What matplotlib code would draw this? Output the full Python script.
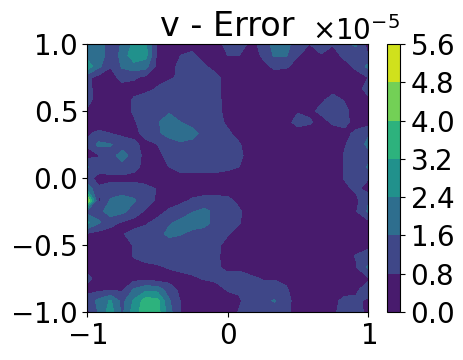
# v - Error contour (units of 1e-5)
import numpy as np
import matplotlib
matplotlib.use("Agg")
import matplotlib.pyplot as plt

x_values = np.linspace(-1, 1, 25).tolist()
y_values = np.linspace(1, -1, 25).tolist()
levels = [0.0, 0.8, 1.6, 2.4, 3.2, 4.0, 4.8, 5.6]
x_ticks = [-1, 0, 1]
y_ticks = [-1, -0.5, 0, 0.5, 1]

# one row per y value, top of the plot first
error_rows = [
    [1.9, 2.3, 1.0, 1.7, 2.6, 2.6, .75, .4, .5, .6, .4, .6, .95, 1.0, .7, .9, 2.0, 2.0, .9, .8, 1.2, .85, 1.5, 1.7, .5],
    [2.0, 2.3, .9, 1.9, 2.9, 2.7, .6, .5, .8, .9, .5, .5, .8, .8, .4, .9, 1.7, 1.7, .85, .5, .75, .5, 1.0, 1.3, .8],
    [3.0, 1.8, .85, 1.7, 2.1, 1.9, .6, .5, 1.0, 1.1, .9, .5, .4, .3, .3, .6, .95, .9, .5, .4, .4, .4, .5, 1.0, 1.8],
    [1.0, .5, .4, 1.1, .9, .6, .6, .7, .9, 1.1, 1.2, 1.0, .5, .3, .3, .3, .4, .4, .3, .3, .3, .3, .4, .4, .8],
    [1.1, .4, .3, .4, .5, .6, .85, 1.1, 1.3, 1.4, 1.3, 1.0, .5, .3, .3, .3, .3, .3, .3, .3, .5, .6, .6, .5, 1.1],
    [1.1, .4, .3, .4, .9, 1.1, 1.2, 1.3, 1.4, 1.4, 1.2, 1.0, .55, .3, .3, .3, .3, .3, .3, .4, .7, 1.0, .75, .5, .6],
    [.7, .4, .3, .4, .9, 1.2, 1.4, 1.5, 1.4, 1.3, 1.2, 1.0, .6, .4, .3, .3, .4, .6, .75, .65, .95, 1.2, .95, .5, .4],
    [.4, .4, .4, .5, .7, 1.2, 1.5, 2.0, 1.6, 1.3, 1.2, 1.0, .7, .5, .3, .3, .4, .6, 1.0, .9, .55, .9, 1.0, .5, .4],
    [.7, .95, .8, .6, .6, 1.0, 1.4, 2.0, 2.2, 1.9, 1.3, 1.1, .9, .6, .35, .3, .3, .4, .5, .4, .4, .5, .6, .95, 1.5],
    [.9, 1.8, 1.65, 1.3, .95, .6, .8, 1.0, 1.4, 1.3, 1.2, 1.1, 1.0, .85, .5, .3, .3, .3, .3, .3, .3, .4, .75, 1.1, 1.8],
    [.5, .75, 1.3, 1.9, 1.3, .5, .6, 1.0, 1.2, 1.2, 1.2, 1.2, 1.1, .95, .5, .3, .3, .3, .3, .3, .3, .4, .85, .85, 1.2],
    [1.7, 1.1, 1.2, 1.3, 1.0, .6, .5, .8, 1.0, 1.0, 1.0, 1.0, .95, .8, .4, .3, .3, .3, .3, .3, .3, .4, .85, .8, 1.7],
    [1.0, .6, .6, .6, .6, .4, .4, .5, .6, .6, .6, .6, .5, .4, .3, .3, .3, .3, .3, .3, .3, .4, .85, .9, .85],
    [2.2, .9, 1.1, 1.1, 1.1, 1.1, .75, .4, .3, .4, .4, .4, .4, .3, .3, .3, .3, .3, .3, .3, .3, .4, .6, .95, .5],
    [5.0, .6, 1.7, 2.0, 1.7, 1.1, .7, .5, .6, .9, 1.1, 1.1, 1.0, .6, .3, .3, .3, .3, .3, .3, .3, .3, .5, .6, 1.5],
    [1.3, 1.3, 2.0, 1.8, 1.2, .7, .55, .9, 1.2, 1.55, 1.8, 1.4, 1.1, .9, .4, .3, .3, .3, .3, .3, .3, .3, .5, .75, 1.7],
    [2.6, 1.7, 1.1, .7, .5, .7, 1.0, 1.5, 1.8, 2.1, 1.9, 1.3, 1.0, .85, .4, .3, .3, .3, .3, .3, .3, .3, .3, .5, .5],
    [.7, .5, .4, .75, 1.0, 1.1, 1.3, 1.8, 1.65, 1.3, 1.2, 1.0, .85, .5, .3, .3, .3, .3, .3, .3, .3, .3, .3, .3, .4],
    [.4, .4, .4, .5, .85, 1.0, 1.2, 1.2, 1.2, 1.1, 1.0, .95, .6, .4, .3, .3, .3, .3, .3, .3, .3, .3, .3, .5, .6],
    [.4, .4, .3, .5, .85, 1.0, 1.1, 1.1, 1.1, 1.1, 1.0, .9, .6, .4, .3, .3, .3, .3, .3, .3, .3, .3, .5, .85, 1.1],
    [.6, .4, .3, .4, .5, .65, .7, .85, .95, 1.0, 1.0, .9, .65, .65, .4, .3, .3, .3, .3, .3, .3, .3, .5, .75, 1.7],
    [1.0, .5, .4, .4, .5, .5, .4, .5, .6, .7, .85, .95, 1.0, 1.1, .95, .75, .75, .6, .4, .3, .3, .3, .3, .5, .7],
    [.6, .6, .7, .7, 1.7, 2.2, 2.1, 1.2, .6, .4, .4, .5, .85, .9, 1.1, 1.1, 1.1, .9, .4, .3, .3, .3, .5, .7, 1.1],
    [1.1, 1.8, 2.5, 1.3, 2.5, 3.6, 3.5, 1.7, .75, .4, .4, .4, .5, .7, 1.2, 1.4, 1.65, 1.1, .4, .3, .3, .6, 1.0, .9, .7],
    [.5, 1.7, 2.8, 1.4, 2.8, 3.7, 3.6, 1.9, .75, .4, .4, .4, .4, .85, 1.0, 1.2, 1.2, 1.0, .4, .3, .3, .7, 1.0, 1.1, .6],
]

plt.rcParams["axes.formatter.use_mathtext"] = True
plt.rcParams["font.size"] = 20

error = np.array(error_rows) * 1e-5
fig = plt.figure(figsize=(4.63, 3.6), dpi=100)
ax = fig.add_axes([87 / 463, 1 - 312 / 360, 281 / 463, 268 / 360])
cax = fig.add_axes([386.5 / 463, 1 - 312 / 360, 13.5 / 463, 268 / 360])

cs = ax.contourf(x_values, y_values, error, levels=np.array(levels) * 1e-5, cmap="viridis")
ax.set_xticks(x_ticks)
ax.set_yticks(y_ticks)
ax.set_title("v - Error", fontsize=24)
fig.colorbar(cs, cax=cax)

fig.savefig("out.png", dpi=100)
